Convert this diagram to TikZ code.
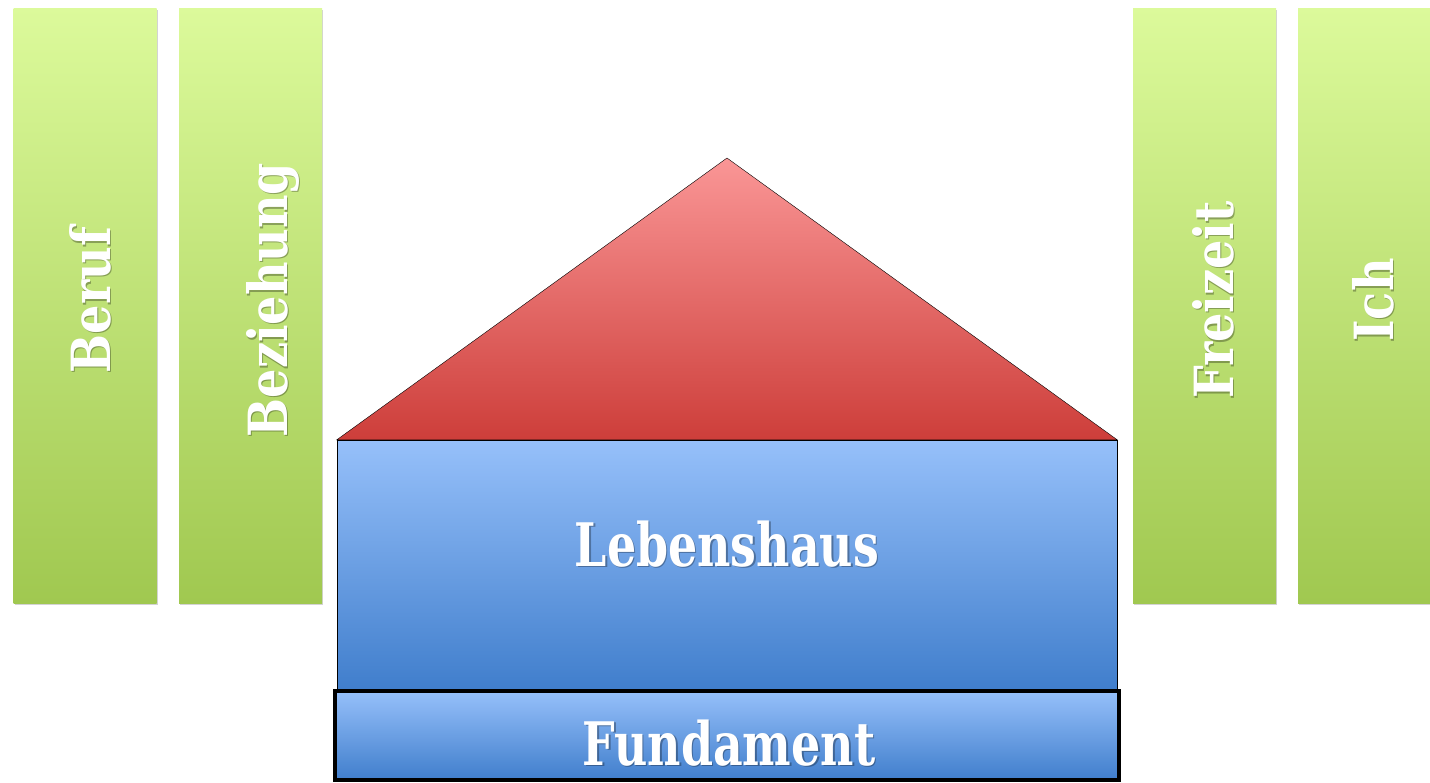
\documentclass[tikz,border=0pt]{standalone}
\usepackage{fontspec}
\setmainfont{DejaVu Serif Condensed}
\newfontfamily\pillarfont[FakeStretch=0.95]{DejaVu Serif Condensed}
\newfontfamily\housefont[FakeStretch=0.85]{DejaVu Serif Condensed}
\usepackage{tikz}
\usetikzlibrary{shadows}
\definecolor{greentop}{RGB}{220,250,155}
\definecolor{greenbot}{RGB}{160,200,80}
\definecolor{bluetop}{RGB}{150,192,250}
\definecolor{bluebot}{RGB}{64,126,204}
\definecolor{redtop}{RGB}{250,150,150}
\definecolor{redbot}{RGB}{205,62,58}
\tikzstyle{pillar} = [rectangle, top color=greentop, bottom color=greenbot,
    minimum width=143pt, minimum height=595pt, inner sep=0pt,
    drop shadow={shadow xshift=1pt, shadow yshift=-2pt, opacity=0.35}]
\tikzstyle{pillartext} = [text=white, font=\pillarfont\bfseries\fontsize{54}{54}\selectfont,
    rotate=90, anchor=base, inner sep=0pt]
\tikzstyle{housebox} = [draw=black, rectangle, top color=bluetop, bottom color=bluebot,
    inner sep=0pt]
\tikzstyle{housetext} = [text=white, font=\housefont\bfseries\fontsize{60}{60}\selectfont,
    anchor=base, inner sep=0pt]
\tikzstyle{textshadow} = [text=black, opacity=0.3]

\begin{document}
\begin{tikzpicture}[x=1pt, y=-1pt]
    \useasboundingbox (0,0) rectangle (1430,782);
    % saeulen links und rechts
    \foreach \name/\x/\bx/\word in {beruf/85/110/Beruf, beziehung/250.5/287/Beziehung,
        freizeit/1204.5/1233/Freizeit, ich/1369.5/1393/Ich}{
        \node[pillar] (\name) at (\x,305.5) {};
        \node[pillartext, textshadow] at (\bx+1.5,301.5) {\word};
        \node[pillartext] (\name-text) at (\bx,300) {\word};
    }
    % haus
    \node[housebox, minimum width=780pt, minimum height=250pt] (house) at (727,565) {};
    \coordinate (rooftop) at (727,158);
    \shade[draw=black, top color=redtop, bottom color=redbot]
        (house.north west) -- (rooftop) -- (house.north east) -- cycle;
    \node[housebox, line width=4pt, minimum width=784pt, minimum height=89pt] (fundament) at (727,735.5) {};
    \node[housetext, textshadow] at (728.5,567.5) {Lebenshaus};
    \node[housetext] (house-text) at (727,566) {Lebenshaus};
    \node[housetext, textshadow] at (730.5,766.5) {Fundament};
    \node[housetext] (fundament-text) at (729,765) {Fundament};
\end{tikzpicture}
\end{document}
